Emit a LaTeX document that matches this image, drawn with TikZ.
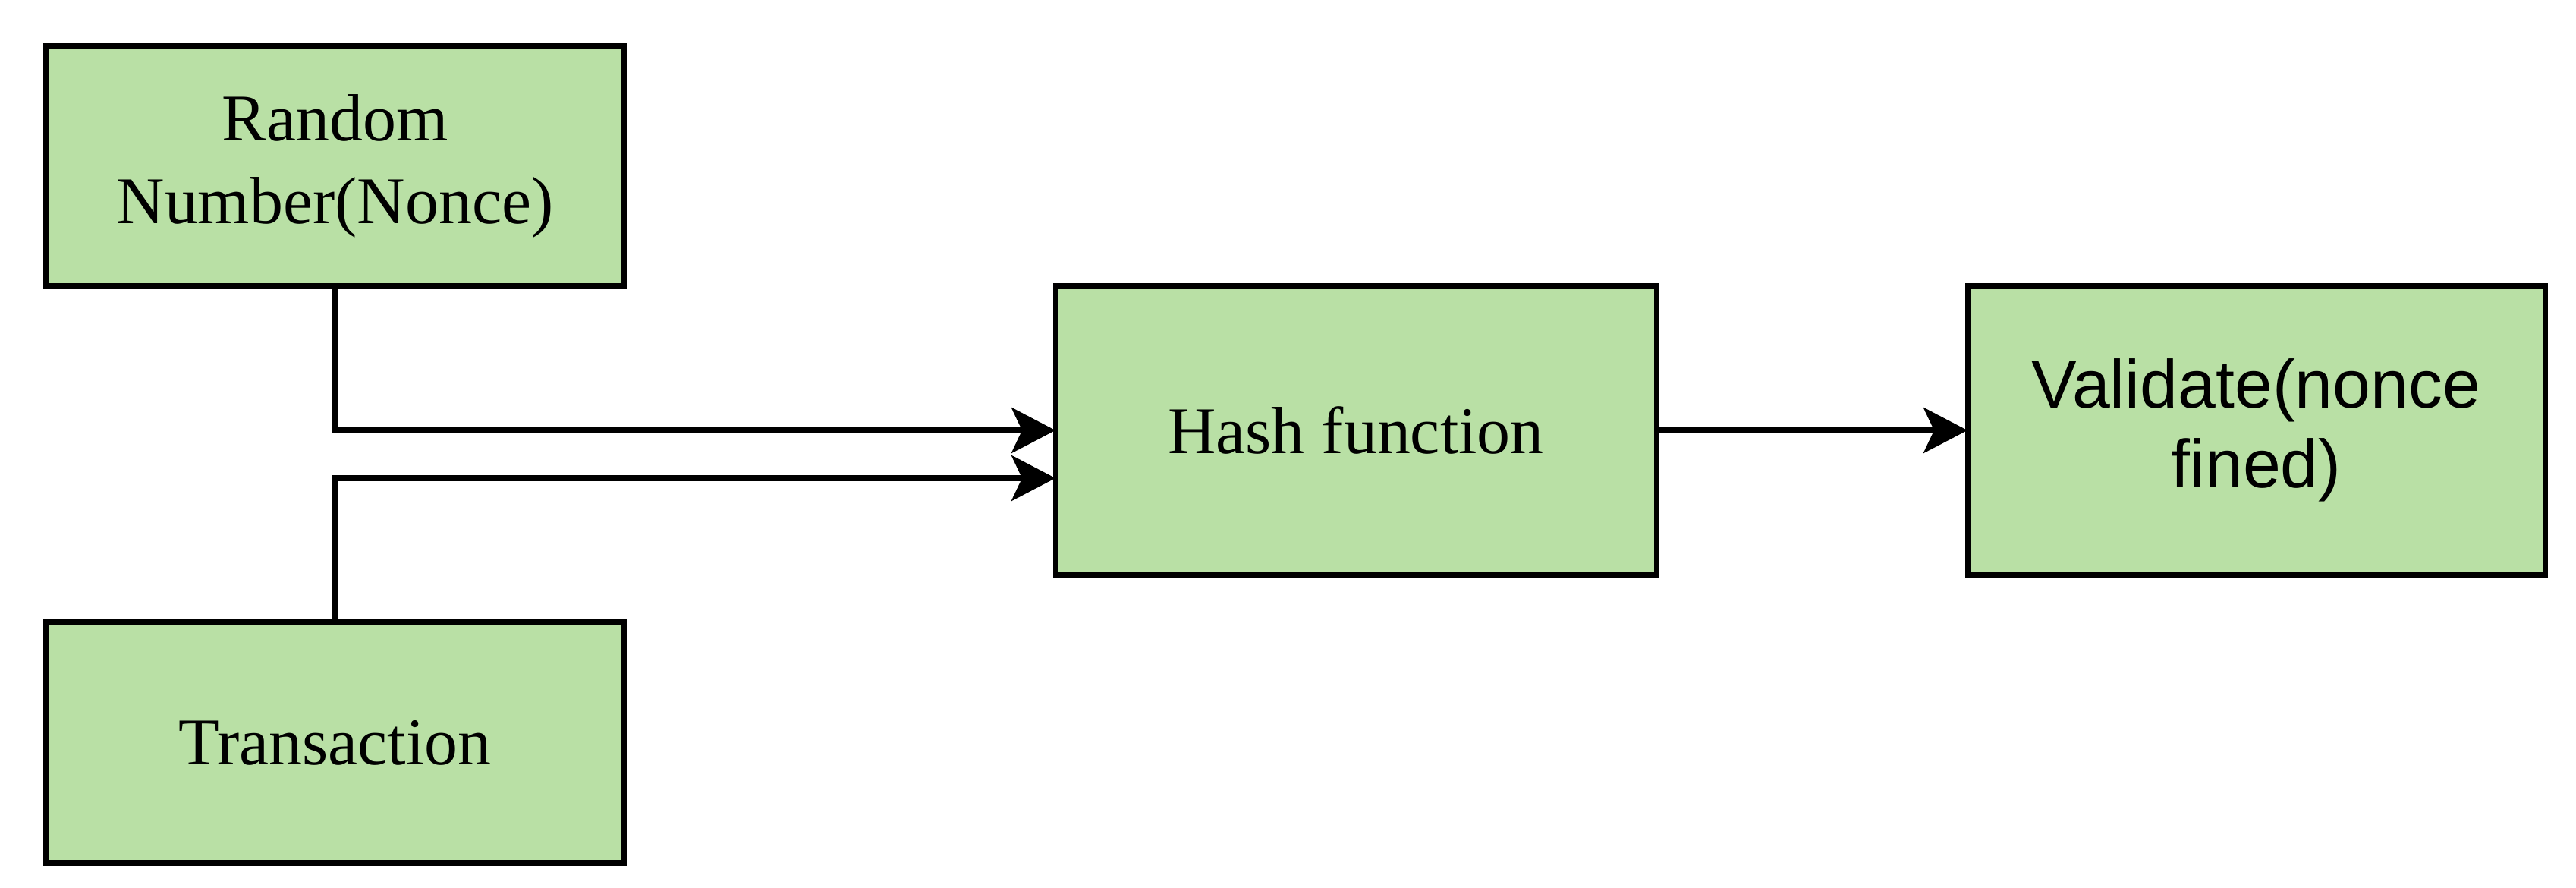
\documentclass[tikz,border=0pt]{standalone}
\usepackage{fontspec}
\setmainfont{Liberation Serif}
\newfontfamily\arialfont{Liberation Sans}
\usetikzlibrary{arrows.meta}
\definecolor{boxgreen}{HTML}{B9E0A5}
\begin{document}
\begin{tikzpicture}
\tikzset{
  blockbox/.style={draw=black, fill=boxgreen, line width=2pt, inner sep=0pt, outer sep=0pt,
    align=center, font=\fontsize{25}{31}\selectfont},
  smallblock/.style={blockbox, minimum width=7.61cm, minimum height=3.17cm},
  bigblock/.style={blockbox, minimum width=7.92cm, minimum height=3.80cm},
  conn/.style={line width=2pt, -{Stealth[length=0.58cm, width=0.6cm, inset=0.14cm]}}
}
\useasboundingbox (0,0) rectangle (33.95,-11.70);
\node[smallblock] (rn) at (4.415,-2.185) {Random\\Number(Nonce)};
\node[smallblock] (tr) at (4.415,-9.785) {Transaction};
\node[bigblock] (hash) at (17.87,-5.67) {Hash function};
\node[bigblock, minimum width=7.61cm, font=\arialfont\fontsize{25.5}{30}\selectfont] (val) at (29.735,-5.67) {Validate(nonce\\fined)};
\coordinate (hin2) at ([yshift=-0.63cm]hash.west);
\draw[conn] (rn.south) |- (hash.west);
\draw[conn] (tr.north) |- (hin2);
\draw[conn] (hash.east) -- (val.west);
\end{tikzpicture}
\end{document}
